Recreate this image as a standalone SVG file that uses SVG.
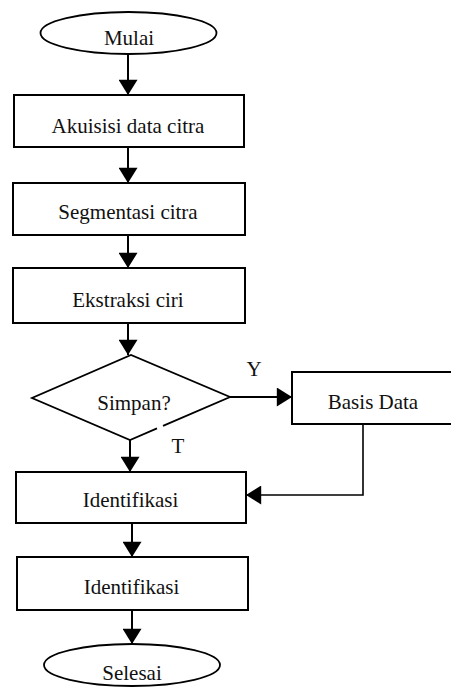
<svg xmlns="http://www.w3.org/2000/svg" width="451" height="688" viewBox="0 0 451 688">
<style>
.box{fill:#fff;stroke:#000;stroke-width:2}
.shape{fill:#fff;stroke:#000;stroke-width:1.8}
.lbl{font-family:"Liberation Serif","Times New Roman",serif;font-size:21px;fill:#111;text-anchor:middle}
.con{fill:none;stroke:#000;stroke-width:2}
.thin{fill:none;stroke:#000;stroke-width:1.6}
</style>
<defs>
<marker id="ah" viewBox="0 0 16 20" refX="16" refY="10" markerWidth="16" markerHeight="19" markerUnits="userSpaceOnUse" orient="auto">
<path d="M0,0 L16,10 L0,20 Z" fill="#000"/>
</marker>
</defs>
<rect width="451" height="688" fill="#fff"/>
<g id="connectors">
<line class="con" x1="128" y1="54" x2="128" y2="95" marker-end="url(#ah)"/>
<line class="con" x1="128" y1="147" x2="128" y2="183" marker-end="url(#ah)"/>
<line class="con" x1="128" y1="235" x2="128" y2="268" marker-end="url(#ah)"/>
<line class="con" x1="128" y1="323" x2="128" y2="355" marker-end="url(#ah)"/>
<line class="con" x1="230" y1="397" x2="292" y2="397" marker-end="url(#ah)"/>
<line class="con" x1="130" y1="440" x2="130" y2="472" marker-end="url(#ah)"/>
<polyline class="thin" points="363,418 363,495 246,495" marker-end="url(#ah)"/>
<line class="con" x1="132" y1="523" x2="132" y2="557" marker-end="url(#ah)"/>
<line class="con" x1="132" y1="610" x2="132" y2="644" marker-end="url(#ah)"/>
<text class="lbl" x="254" y="376">Y</text>
<text class="lbl" x="178" y="453">T</text>
</g>
<g id="mulai">
<ellipse class="shape" cx="128.5" cy="33" rx="88" ry="21"/>
<text class="lbl" x="129" y="45">Mulai</text>
</g>
<g id="akuisisi">
<rect class="box" x="14" y="95" width="230" height="52"/>
<text class="lbl" x="128" y="133">Akuisisi data citra</text>
</g>
<g id="segmentasi">
<rect class="box" x="13" y="183" width="232" height="52"/>
<text class="lbl" x="128" y="219">Segmentasi citra</text>
</g>
<g id="ekstraksi">
<rect class="box" x="13" y="268" width="232" height="55"/>
<text class="lbl" x="128" y="307">Ekstraksi ciri</text>
</g>
<g id="simpan">
<path class="shape" d="M163,425.8 L230,397 L131,355 L32,398 L130,440 L157,428.4"/>
<text class="lbl" x="134" y="410">Simpan?</text>
</g>
<g id="basisdata">
<rect class="box" x="292" y="372" width="165" height="52"/>
<text class="lbl" x="373" y="409">Basis Data</text>
</g>
<g id="identifikasi1">
<rect class="box" x="16" y="472" width="230" height="51"/>
<text class="lbl" x="130.5" y="507">Identifikasi</text>
</g>
<g id="identifikasi2">
<rect class="box" x="17" y="557" width="231" height="53"/>
<text class="lbl" x="131.5" y="594">Identifikasi</text>
</g>
<g id="selesai">
<ellipse class="shape" cx="132" cy="665" rx="88" ry="21"/>
<text class="lbl" x="132" y="680">Selesai</text>
</g>
</svg>
